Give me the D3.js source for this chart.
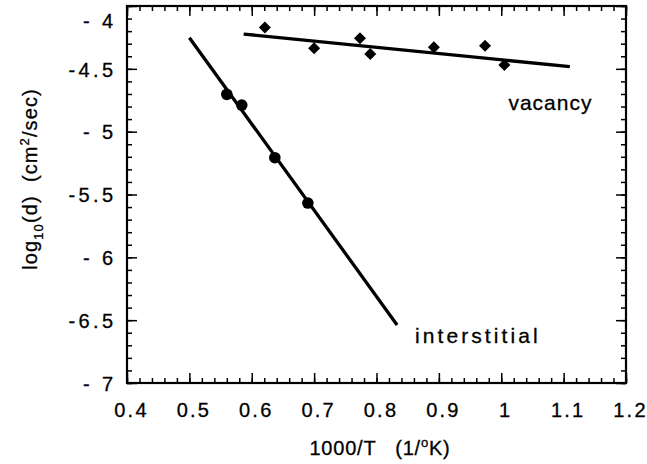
<!DOCTYPE html>
<html>
<head>
<meta charset="utf-8">
<script src="https://cdn.jsdelivr.net/npm/d3@7"></script>
<style>
  body { margin: 0; background: #fff; }
  text { font-family: "Liberation Sans", Arial, Helvetica, sans-serif; fill: #000; stroke: #000; stroke-width: 0.3px; }
</style>
</head>
<body>
<svg id="chart"></svg>
<script>
// interstitial diffusion (circles) and its fit line
const interX = [0.560, 0.584, 0.637, 0.690];
const interY = [-4.703, -4.788, -5.207, -5.568];
const interFitX = [0.500, 0.833];
const interFitY = [-4.252, -6.538];

// vacancy diffusion (diamonds) and its fit line
const vacX = [0.621, 0.700, 0.7735, 0.790, 0.892, 0.974, 1.005];
const vacY = [-4.172, -4.337, -4.257, -4.382, -4.329, -4.316, -4.469];
const vacFitX = [0.587, 1.110];
const vacFitY = [-4.223, -4.483];

const xTicks = [0.4, 0.5, 0.6, 0.7, 0.8, 0.9, 1.0, 1.1, 1.2];
const xTickLabels = ["0.4", "0.5", "0.6", "0.7", "0.8", "0.9", "1", "1.1", "1.2"];
const yTicks = [-4, -4.5, -5, -5.5, -6, -6.5, -7];
const yTickLabels = ["- 4", "-4.5", "- 5", "-5.5", "- 6", "-6.5", "- 7"];

const draw = () => {
  const margin = { top: 6, left: 127 };
  const width = 499, height = 377;

  const svg = d3.select("#chart").attr("width", 647).attr("height", 464);
  const g = svg.append("g").attr("transform", "translate(" + margin.left + "," + margin.top + ")");

  const x = d3.scaleLinear().domain([0.4, 1.2]).range([0, width]);
  const y = d3.scaleLinear().domain([-7, -4]).range([height, 0]);

  const xMinor = d3.range(0, 41).map(i => 0.4 + i * 0.02);
  const yMinor = d3.range(0, 31).map(i => -7 + i * 0.1);

  const styleAxis = sel => {
    sel.select(".domain").remove();
    sel.selectAll("line").attr("stroke", "#000").attr("stroke-width", 1.5);
  };

  // minor ticks, all four sides
  g.append("g").attr("transform", "translate(0," + height + ")")
    .call(d3.axisBottom(x).tickValues(xMinor).tickSize(-5).tickFormat("")).call(styleAxis);
  g.append("g")
    .call(d3.axisTop(x).tickValues(xMinor).tickSize(-5).tickFormat("")).call(styleAxis);
  g.append("g")
    .call(d3.axisLeft(y).tickValues(yMinor).tickSize(-5).tickFormat("")).call(styleAxis);
  g.append("g").attr("transform", "translate(" + width + ",0)")
    .call(d3.axisRight(y).tickValues(yMinor).tickSize(-5).tickFormat("")).call(styleAxis);

  // major ticks
  const xb = g.append("g").attr("transform", "translate(0," + height + ")")
    .call(d3.axisBottom(x).tickValues(xTicks).tickSize(-10)
      .tickFormat((d, i) => xTickLabels[i]))
    .call(styleAxis);
  xb.selectAll("text")
    .attr("y", 34).attr("dy", 0).attr("dx", 4)
    .style("font-size", "20px").style("letter-spacing", "2.2px")
    .style("font-family", '"Liberation Sans", Arial, sans-serif');

  g.append("g")
    .call(d3.axisTop(x).tickValues(xTicks).tickSize(-10).tickFormat("")).call(styleAxis);

  const yl = g.append("g")
    .call(d3.axisLeft(y).tickValues(yTicks).tickSize(-10)
      .tickFormat((d, i) => yTickLabels[i]))
    .call(styleAxis);
  yl.selectAll("text")
    .attr("x", -10.5).attr("dy", (d, i) => i === 0 ? "1.05em" : "0.36em")
    .style("font-size", "20px").style("letter-spacing", "3.4px")
    .style("font-family", '"Liberation Sans", Arial, sans-serif');

  g.append("g").attr("transform", "translate(" + width + ",0)")
    .call(d3.axisRight(y).tickValues(yTicks).tickSize(-10).tickFormat("")).call(styleAxis);

  // frame
  g.append("rect")
    .attr("width", width).attr("height", height)
    .attr("fill", "none").attr("stroke", "#000").attr("stroke-width", 2.2);

  // fit lines
  const line = d3.line().x(d => x(d[0])).y(d => y(d[1]));
  g.append("path")
    .datum(interFitX.map((v, i) => [v, interFitY[i]]))
    .attr("d", line).attr("fill", "none").attr("stroke", "#000").attr("stroke-width", 3.3);
  g.append("path")
    .datum(vacFitX.map((v, i) => [v, vacFitY[i]]))
    .attr("d", line).attr("fill", "none").attr("stroke", "#000").attr("stroke-width", 3.3);

  // points
  g.selectAll(".inter")
    .data(interX)
    .enter().append("circle")
    .attr("class", "inter")
    .attr("cx", d => x(d))
    .attr("cy", (d, i) => y(interY[i]))
    .attr("r", 5.8)
    .attr("fill", "#000");

  const diamond = d3.symbol().type(d3.symbolSquare).size(72);
  g.selectAll(".vac")
    .data(vacX)
    .enter().append("path")
    .attr("class", "vac")
    .attr("d", diamond)
    .attr("transform", (d, i) => "translate(" + x(d) + "," + y(vacY[i]) + ") rotate(45)")
    .attr("fill", "#000");

  // labels
  g.append("text")
    .attr("x", x(1.0115)).attr("y", y(-4.828))
    .style("font-size", "21px").style("letter-spacing", "1px")
    .text("vacancy");
  g.append("text")
    .attr("x", x(0.8616)).attr("y", y(-6.682))
    .style("font-size", "21px").style("letter-spacing", "3.1px")
    .text("interstitial");

  // axis titles
  const xt = svg.append("text")
    .attr("x", 380).attr("y", 455)
    .attr("text-anchor", "middle")
    .style("font-size", "20px")
    .style("letter-spacing", "0.8px")
    .style("white-space", "pre");
  xt.append("tspan").text("1000/T   (1/");
  xt.append("tspan").attr("dy", -8).style("font-size", "13px").text("o");
  xt.append("tspan").attr("dy", 8).text("K)");

  const yt = svg.append("text")
    .attr("transform", "translate(37,179) rotate(-90)")
    .attr("text-anchor", "middle")
    .style("font-size", "20px")
    .style("letter-spacing", "1.1px")
    .style("white-space", "pre");
  yt.append("tspan").text("log");
  yt.append("tspan").attr("dy", 6).style("font-size", "13px").text("10");
  yt.append("tspan").attr("dy", -6).text("(d)  (cm");
  yt.append("tspan").attr("dy", -8).style("font-size", "13px").text("2");
  yt.append("tspan").attr("dy", 8).text("/sec)");
};

draw();
</script>
</body>
</html>
